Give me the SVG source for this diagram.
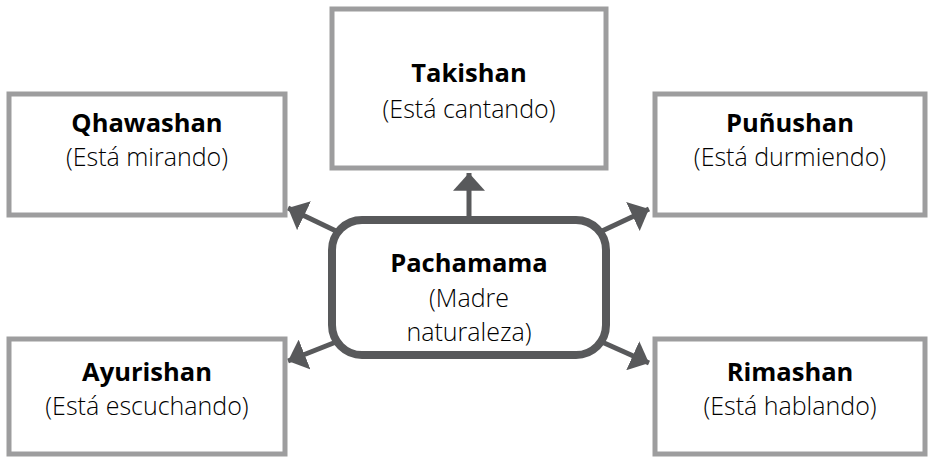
<svg xmlns="http://www.w3.org/2000/svg" width="929" height="460" viewBox="0 0 929 460">
<style>
.box{fill:#fff;stroke:#9d9d9e;stroke-width:5}
.center{fill:#fff;stroke:#58595b;stroke-width:8}
.t{font-family:"Open Sans","Noto Sans","Liberation Sans",sans-serif;font-weight:700;font-size:25.5px;fill:#000;text-anchor:middle}
.s{font-family:"Open Sans","Noto Sans","Liberation Sans",sans-serif;font-weight:300;font-size:25px;fill:#000;text-anchor:middle}
.c{stroke:#58595b;stroke-width:5;fill:none}
</style>
<defs>
<marker id="ah" viewBox="0 0 10 18" refX="10" refY="9" markerWidth="3.6" markerHeight="6.4" markerUnits="strokeWidth" orient="auto">
<path d="M0,0 L10,9 L0,18 z" fill="#58595b"/>
</marker>
</defs>
<g id="connectors">
<line class="c" x1="469" y1="216" x2="469" y2="173" marker-end="url(#ah)"/>
<line class="c" x1="336" y1="231" x2="288" y2="208" marker-end="url(#ah)"/>
<line class="c" x1="602" y1="231" x2="649" y2="209" marker-end="url(#ah)"/>
<line class="c" x1="336" y1="342" x2="288" y2="361" marker-end="url(#ah)"/>
<line class="c" x1="602" y1="342" x2="649" y2="363" marker-end="url(#ah)"/>
</g>
<g id="takishan">
<rect class="box" x="332" y="9" width="274" height="159"/>
<text class="t" x="469" y="82">Takishan</text>
<text class="s" x="469" y="118">(Está cantando)</text>
</g>
<g id="qhawashan">
<rect class="box" x="9" y="94" width="276" height="121"/>
<text class="t" x="147" y="132">Qhawashan</text>
<text class="s" x="147" y="166">(Está mirando)</text>
</g>
<g id="punushan">
<rect class="box" x="655" y="94" width="270" height="121"/>
<text class="t" x="790" y="132">Puñushan</text>
<text class="s" x="790" y="166">(Está durmiendo)</text>
</g>
<g id="ayurishan">
<rect class="box" x="9" y="339" width="276" height="115"/>
<text class="t" x="147" y="381">Ayurishan</text>
<text class="s" x="147" y="415">(Está escuchando)</text>
</g>
<g id="rimashan">
<rect class="box" x="655" y="339" width="270" height="115"/>
<text class="t" x="790" y="381">Rimashan</text>
<text class="s" x="790" y="415">(Está hablando)</text>
</g>
<g id="pachamama">
<rect class="center" x="332" y="220" width="274" height="135" rx="30" ry="30"/>
<text class="t" x="469" y="272">Pachamama</text>
<text class="s" x="469" y="307">(Madre</text>
<text class="s" x="469" y="341">naturaleza)</text>
</g>
</svg>
